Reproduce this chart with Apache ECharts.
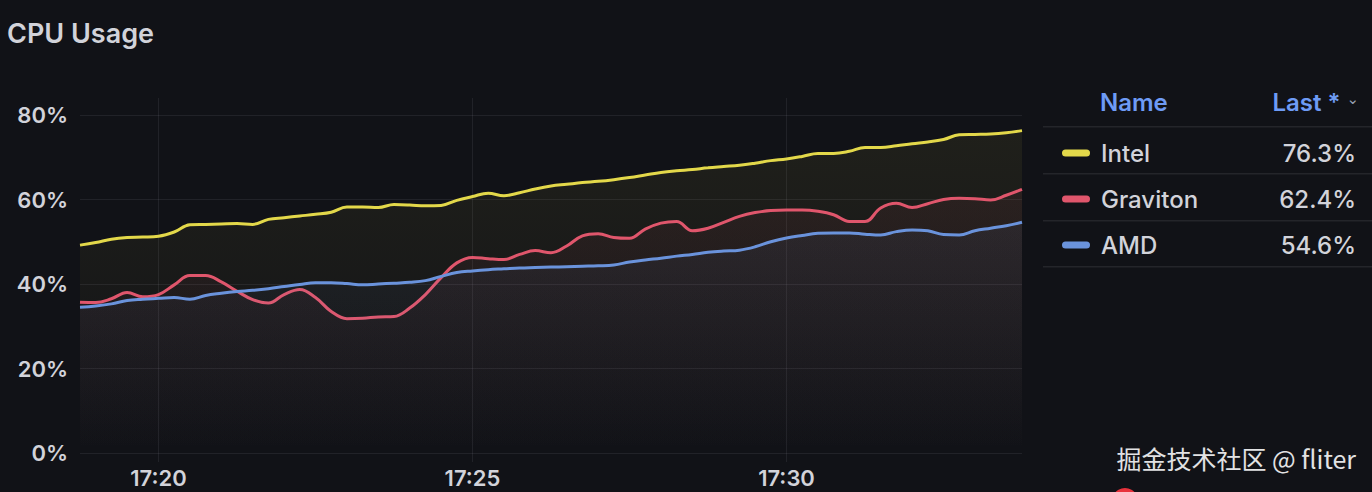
<!DOCTYPE html>
<html>
<head>
<meta charset="utf-8">
<script src="https://cdn.jsdelivr.net/npm/echarts@6/dist/echarts.min.js"></script>
<style>
  html, body { margin: 0; padding: 0; background: #111217; }
  #chart { width: 1372px; height: 492px; }
</style>
</head>
<body>
<div id="chart"></div>
<script>
// ---- data ----
const seriesNames = ['Intel', 'Graviton', 'AMD'];
const startTime = [17, 18, 45];   // h, m, s of first sample
const stepSeconds = 15;
const xTickLabels = ['17:20', '17:25', '17:30'];
const intel = [49.2,49.8,50.6,51.0,51.1,51.3,52.3,54.0,54.1,54.2,
  54.3,54.1,55.3,55.7,56.1,56.5,57.0,58.2,58.2,58.1,
  58.8,58.7,58.5,58.6,59.8,60.7,61.5,60.9,61.6,62.5,
  63.2,63.6,64.0,64.3,64.7,65.2,65.8,66.4,66.8,67.1,
  67.5,67.8,68.1,68.6,69.2,69.6,70.2,70.9,70.9,71.4,
  72.3,72.3,72.7,73.2,73.6,74.2,75.3,75.4,75.5,75.8,
  76.3];
const graviton = [35.7,35.6,36.5,38.0,37.0,37.5,39.8,42.0,42.0,40.5,
  38.3,36.3,35.5,37.5,38.7,36.8,33.5,31.8,31.9,32.2,
  32.3,34.3,37.5,41.5,45.0,46.3,46.0,45.8,47.0,47.9,
  47.4,49.0,51.4,51.9,51.0,50.8,53.0,54.4,54.8,52.6,
  53.2,54.6,56.0,56.9,57.4,57.5,57.5,57.2,56.4,54.8,
  54.8,58.0,59.1,58.1,59.0,60.0,60.3,60.2,59.9,61.0,
  62.4];
const amd = [34.5,34.8,35.3,36.1,36.4,36.6,36.8,36.4,37.3,37.8,
  38.2,38.5,38.9,39.4,39.9,40.3,40.3,40.1,39.8,40.0,
  40.2,40.4,40.8,41.8,42.7,43.1,43.4,43.6,43.8,43.9,
  44.0,44.1,44.2,44.3,44.5,45.2,45.7,46.1,46.6,47.0,
  47.5,47.8,48.0,48.8,50.0,50.9,51.5,52.0,52.1,52.1,
  51.8,51.6,52.4,52.8,52.6,51.7,51.6,52.6,53.2,53.8,
  54.6];
const yTicks = [0, 20, 40, 60, 80];
const title = 'CPU Usage';
const watermark = '掘金技术社区 @ fliter';

// ---- build ----
const colors = ['#e3d84a', '#e0566c', '#6a93dc'];
const fills = ['rgba(227,216,74,', 'rgba(224,86,108,', 'rgba(106,147,220,'];
// x values as seconds since midnight
const t0 = startTime[0] * 3600 + startTime[1] * 60 + startTime[2];
const times = intel.map((_, i) => t0 + i * stepSeconds);
const tickTimes = xTickLabels.map(s => {
  const p = s.split(':').map(Number);
  return p[0] * 3600 + p[1] * 60;
});
const valueSets = [intel, graviton, amd];
const lastVals = valueSets.map(v => v[v.length - 1].toFixed(1) + '%');

const chart = echarts.init(document.getElementById('chart'), null, { renderer: 'svg' });
const fontFam = 'Inter, "Noto Sans", sans-serif';
const gridCol = 'rgba(204,204,220,0.09)';
const txtCol = '#d2d3da';

const series = valueSets.map((vals, k) => ({
  name: seriesNames[k],
  type: 'line',
  xAxisIndex: 0, yAxisIndex: 0,
  data: vals.map((v, i) => [times[i], v]),
  showSymbol: false,
  smooth: 0.4,
  lineStyle: { width: 3, color: colors[k] },
  itemStyle: { color: colors[k] },
  areaStyle: {
    color: new echarts.graphic.LinearGradient(0, 0, 0, 1, [
      { offset: 0, color: fills[k] + '0.10)' },
      { offset: 1, color: fills[k] + '0.0)' }
    ])
  },
  z: 3 + k
}));

function fmtTime(v) {
  const i = tickTimes.indexOf(v);
  return i >= 0 ? xTickLabels[i] : '';
}

const option = {
  backgroundColor: '#111217',
  animation: false,
  title: {
    text: title, left: 2, top: 15,
    textStyle: { color: txtCol, fontSize: 27, fontWeight: 600, fontFamily: fontFam }
  },
  grid: [
    { left: 80, right: 350, top: 115, bottom: 39 },
    { left: 80, right: 350, top: 98, bottom: 30 }
  ],
  xAxis: [
    {
      type: 'value', gridIndex: 0,
      min: times[0], max: times[times.length - 1],
      axisLine: { show: false },
      axisTick: { show: false, customValues: tickTimes },
      splitLine: { show: false },
      axisLabel: {
        customValues: tickTimes,
        formatter: fmtTime,
        color: txtCol, fontSize: 22, fontWeight: 600,
        fontFamily: fontFam, margin: 14
      }
    },
    {
      type: 'value', gridIndex: 1,
      min: times[0], max: times[times.length - 1],
      axisLine: { show: false },
      axisTick: { show: false, customValues: tickTimes },
      axisLabel: { show: false, customValues: tickTimes },
      splitLine: { show: true, lineStyle: { color: gridCol, width: 1 } }
    }
  ],
  yAxis: [
    {
      type: 'value', gridIndex: 0,
      min: yTicks[0], max: yTicks[yTicks.length - 1], interval: yTicks[1] - yTicks[0],
      axisLine: { show: false }, axisTick: { show: false },
      splitLine: { lineStyle: { color: gridCol, width: 1 } },
      axisLabel: {
        formatter: '{value}%', color: txtCol, fontSize: 22, fontWeight: 600,
        fontFamily: fontFam, margin: 12
      }
    },
    {
      type: 'value', gridIndex: 1, min: 0, max: 1, show: false
    }
  ],
  legend: {
    orient: 'vertical', left: 1057, top: 136,
    itemWidth: 28, itemHeight: 7, itemGap: 22,
    selectedMode: false,
    icon: 'path://M3.5,0 H24.5 A3.5,3.5 0 0 1 24.5,7 H3.5 A3.5,3.5 0 0 1 3.5,0 Z',
    data: seriesNames,
    formatter: name => '{n|' + name + '}{v|' + lastVals[seriesNames.indexOf(name)] + '}',
    textStyle: {
      color: txtCol, fontFamily: fontFam, fontSize: 24,
      rich: {
        n: { width: 175, padding: [0, 0, 0, 6], fontSize: 24, color: txtCol, fontFamily: fontFam, fontWeight: 500, lineHeight: 24 },
        v: { width: 80, align: 'right', fontSize: 24, color: txtCol, fontFamily: fontFam, fontWeight: 500, lineHeight: 24 }
      }
    }
  },
  graphic: [
    { type: 'text', left: 1100, top: 90, style: { text: 'Name', fill: '#6e9bf5', font: '600 24px ' + fontFam } },
    { type: 'text', right: 13, top: 90, style: {
        text: '{a|Last *} {b|⌄}', fill: '#6e9bf5', font: '600 24px ' + fontFam,
        rich: { a: { fill: '#6e9bf5', font: '600 24px ' + fontFam }, b: { fill: '#9aa0b4', font: '15px "DejaVu Sans"', padding: [0, 0, 6, 0] } }
      } },
    { type: 'rect', shape: { x: 1043, y: 126, width: 329, height: 1.5 }, style: { fill: 'rgba(204,204,220,0.10)' } },
    { type: 'rect', shape: { x: 1043, y: 173, width: 329, height: 1.5 }, style: { fill: 'rgba(204,204,220,0.10)' } },
    { type: 'rect', shape: { x: 1043, y: 220, width: 329, height: 1.5 }, style: { fill: 'rgba(204,204,220,0.10)' } },
    { type: 'rect', shape: { x: 1043, y: 266, width: 329, height: 1.5 }, style: { fill: 'rgba(204,204,220,0.10)' } },
    { type: 'text', right: 16, top: 445, style: {
        text: watermark, fill: '#e2e2e4', font: '25px "Noto Sans CJK SC", "Noto Sans", sans-serif',
        shadowColor: 'rgba(0,0,0,0.6)', shadowBlur: 3
      } },
    { type: 'circle', shape: { cx: 1125, cy: 501, r: 13 }, style: { fill: '#e8323c' } }
  ],
  series: series
};
chart.setOption(option);
</script>
</body>
</html>
